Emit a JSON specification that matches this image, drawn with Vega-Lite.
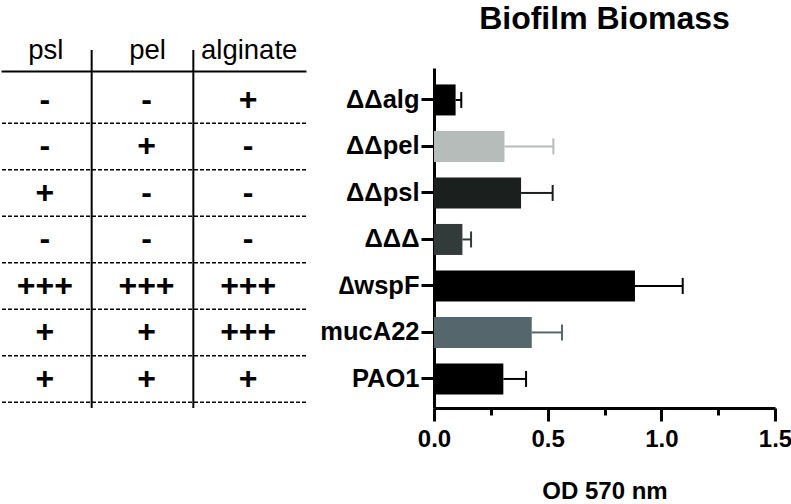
{
  "$schema": "https://vega.github.io/schema/vega-lite/v6.json",
  "padding": {"left": 0, "top": 3, "right": 0, "bottom": 0},
  "bounds": "flush",
  "spacing": 128,
  "config": {"view": {"stroke": null}, "font": "Liberation Sans"},
  "datasets": {
    "bars": [
      {"strain": "ΔΔalg", "od": 0.095, "upper": 0.12},
      {"strain": "ΔΔpel", "od": 0.31, "upper": 0.525},
      {"strain": "ΔΔpsl", "od": 0.383, "upper": 0.522},
      {"strain": "ΔΔΔ", "od": 0.125, "upper": 0.163},
      {"strain": "∆wspF", "od": 0.884, "upper": 1.094},
      {"strain": "mucA22", "od": 0.43, "upper": 0.563},
      {"strain": "PAO1", "od": 0.305, "upper": 0.405}
    ],
    "table": [
      {"strain": "ΔΔalg", "col": "psl", "sign": "-"},
      {"strain": "ΔΔalg", "col": "pel", "sign": "-"},
      {"strain": "ΔΔalg", "col": "alginate", "sign": "+"},
      {"strain": "ΔΔpel", "col": "psl", "sign": "-"},
      {"strain": "ΔΔpel", "col": "pel", "sign": "+"},
      {"strain": "ΔΔpel", "col": "alginate", "sign": "-"},
      {"strain": "ΔΔpsl", "col": "psl", "sign": "+"},
      {"strain": "ΔΔpsl", "col": "pel", "sign": "-"},
      {"strain": "ΔΔpsl", "col": "alginate", "sign": "-"},
      {"strain": "ΔΔΔ", "col": "psl", "sign": "-"},
      {"strain": "ΔΔΔ", "col": "pel", "sign": "-"},
      {"strain": "ΔΔΔ", "col": "alginate", "sign": "-"},
      {"strain": "∆wspF", "col": "psl", "sign": "+++"},
      {"strain": "∆wspF", "col": "pel", "sign": "+++"},
      {"strain": "∆wspF", "col": "alginate", "sign": "+++"},
      {"strain": "mucA22", "col": "psl", "sign": "+"},
      {"strain": "mucA22", "col": "pel", "sign": "+"},
      {"strain": "mucA22", "col": "alginate", "sign": "+++"},
      {"strain": "PAO1", "col": "psl", "sign": "+"},
      {"strain": "PAO1", "col": "pel", "sign": "+"},
      {"strain": "PAO1", "col": "alginate", "sign": "+"}
    ],
    "seps": [{"col": "psl"}, {"col": "pel"}]
  },
  "hconcat": [
    {
      "width": 305,
      "height": 340,
      "layer": [
        {
          "data": {"name": "table"},
          "mark": {"type": "text", "fontSize": 32, "fontWeight": "bold", "dx": -7, "color": "black"},
          "encoding": {
            "x": {
              "field": "col", "type": "nominal",
              "scale": {"domain": ["psl", "pel", "alginate"], "paddingInner": 0, "paddingOuter": 0},
              "axis": {"orient": "top", "title": null, "labelAngle": 0, "labelFontSize": 27.5, "labelColor": "black", "labelPadding": 7, "labelOffset": -6, "ticks": false, "domainWidth": 2, "domainColor": "black", "offset": -3}
            },
            "y": {
              "field": "strain", "type": "nominal",
              "scale": {"domain": ["ΔΔalg", "ΔΔpel", "ΔΔpsl", "ΔΔΔ", "∆wspF", "mucA22", "PAO1"], "paddingInner": 0, "paddingOuter": 0.156, "align": 0.6},
              "axis": null
            },
            "text": {"field": "sign"}
          }
        },
        {
          "data": {"name": "bars"},
          "mark": {"type": "rule", "strokeDash": [4, 2], "strokeWidth": 1.5, "color": "black", "x2Offset": 130},
          "encoding": {"y": {"field": "strain", "type": "nominal", "bandPosition": 1}}
        },
        {
          "data": {"name": "seps"},
          "mark": {"type": "rule", "strokeWidth": 2, "color": "black", "xOffset": -11, "yOffset": -18, "y2Offset": 8},
          "encoding": {"x": {"field": "col", "type": "nominal", "bandPosition": 1}}
        }
      ]
    },
    {
      "width": 341,
      "height": 340,
      "title": {"text": "Biofilm Biomass", "fontSize": 32, "fontWeight": "bold", "color": "black", "anchor": "middle", "offset": 32},
      "data": {"name": "bars"},
      "encoding": {
        "y": {
          "field": "strain", "type": "nominal",
          "scale": {"domain": ["ΔΔalg", "ΔΔpel", "ΔΔpsl", "ΔΔΔ", "∆wspF", "mucA22", "PAO1"], "paddingInner": 0, "paddingOuter": 0.156, "align": 0.6},
          "axis": {"title": null, "labelFontSize": 25.5, "labelFontWeight": "bold", "labelColor": "black", "labelPadding": 2, "tickSize": 13, "tickWidth": 3, "tickColor": "black", "domainWidth": 3, "domainColor": "black"}
        },
        "color": {
          "field": "strain", "type": "nominal",
          "scale": {"domain": ["ΔΔalg", "ΔΔpel", "ΔΔpsl", "ΔΔΔ", "∆wspF", "mucA22", "PAO1"], "range": ["#000000", "#b5bcba", "#1b201f", "#333b3a", "#000000", "#56666d", "#000000"]},
          "legend": null
        }
      },
      "layer": [
        {
          "mark": {"type": "bar", "size": 31},
          "encoding": {
            "x": {
              "field": "od", "type": "quantitative",
              "scale": {"domain": [0, 1.5], "nice": false},
              "axis": {
                "title": "OD 570 nm", "titleFontSize": 24, "titleFontWeight": "bold", "titleColor": "black", "titlePadding": 28,
                "values": [0, 0.25, 0.5, 0.75, 1, 1.25, 1.5],
                "labelExpr": "datum.value % 0.5 === 0 ? format(datum.value, '.1f') : ''",
                "labelFontSize": 24, "labelFontWeight": "bold", "labelColor": "black", "labelPadding": 6, "labelFlush": false, "labelOverlap": false,
                "tickSize": {"condition": {"test": "datum.value % 0.5 !== 0", "value": 7}, "value": 13},
                "tickWidth": 3, "tickColor": "black", "domainWidth": 3, "domainColor": "black", "grid": false
              }
            }
          }
        },
        {
          "mark": {"type": "rule", "strokeWidth": 2},
          "encoding": {"x": {"field": "od", "type": "quantitative"}, "x2": {"field": "upper"}}
        },
        {
          "mark": {"type": "tick", "size": 16, "thickness": 2, "opacity": 1},
          "encoding": {"x": {"field": "upper", "type": "quantitative"}}
        }
      ]
    }
  ]
}
